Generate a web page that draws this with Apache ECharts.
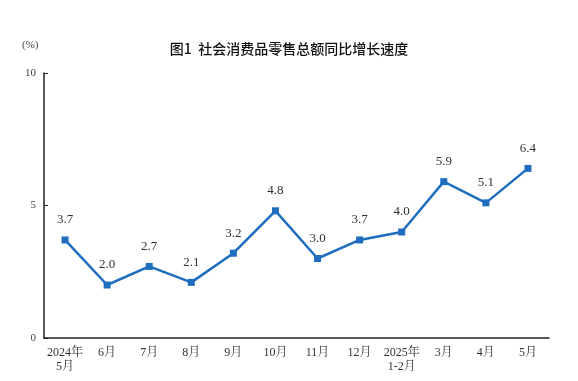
<!DOCTYPE html>
<html><head><meta charset="utf-8">
<script src="https://cdn.jsdelivr.net/npm/echarts@6/dist/echarts.min.js"></script>
<style>html,body{margin:0;padding:0;background:#fff}#c{width:578px;height:381px}</style>
</head><body><div id="c"></div>
<script>
const categories = ['2024年\n5月','6月','7月','8月','9月','10月','11月','12月','2025年\n1-2月','3月','4月','5月'];
const growth = [3.7, 2.0, 2.7, 2.1, 3.2, 4.8, 3.0, 3.7, 4.0, 5.9, 5.1, 6.4];
const yTicks = [0, 5, 10];
const chart = echarts.init(document.getElementById('c'), null, {renderer:'canvas'});
const serif = '"Liberation Serif","DejaVu Serif","Noto Serif CJK SC","Noto Sans CJK SC",serif';
chart.setOption({
  animation:false,
  backgroundColor:'#fff',
  title:{text:'图1  社会消费品零售总额同比增长速度', left:'center', top:37,
    textStyle:{fontFamily:'"Noto Sans CJK SC",sans-serif', fontSize:14, fontWeight:500, color:'#111'}},
  graphic:[{type:'text', left:22, top:40, style:{text:'(%)', fontFamily:serif, fontSize:11, fill:'#444'}}],
  grid:{left:44, right:29, top:73, bottom:43},
  xAxis:{type:'category', data:categories, boundaryGap:true,
    axisLine:{lineStyle:{color:'#222', width:1.5}},
    axisTick:{inside:true, length:4, lineStyle:{color:'#222'}},
    axisLabel:{fontFamily:serif, fontSize:12, color:'#333', margin:8, lineHeight:14, interval:0}},
  yAxis:{type:'value', min:yTicks[0], max:yTicks[yTicks.length-1], interval:5,
    axisLine:{show:true, lineStyle:{color:'#222', width:1.5}},
    axisTick:{show:true, inside:true, length:4, lineStyle:{color:'#222'}},
    splitLine:{show:false},
    axisLabel:{fontFamily:serif, fontSize:11, color:'#444', margin:8}},
  series:[{type:'line', data:growth, symbol:'rect', symbolSize:7,
    lineStyle:{color:'#1f6dbf', width:2.5}, itemStyle:{color:'#1f6dbf'},
    label:{show:true, position:'top', distance:10, fontFamily:serif, fontSize:13, color:'#333',
      formatter:p=>p.value.toFixed(1)}}]
});
</script></body></html>
